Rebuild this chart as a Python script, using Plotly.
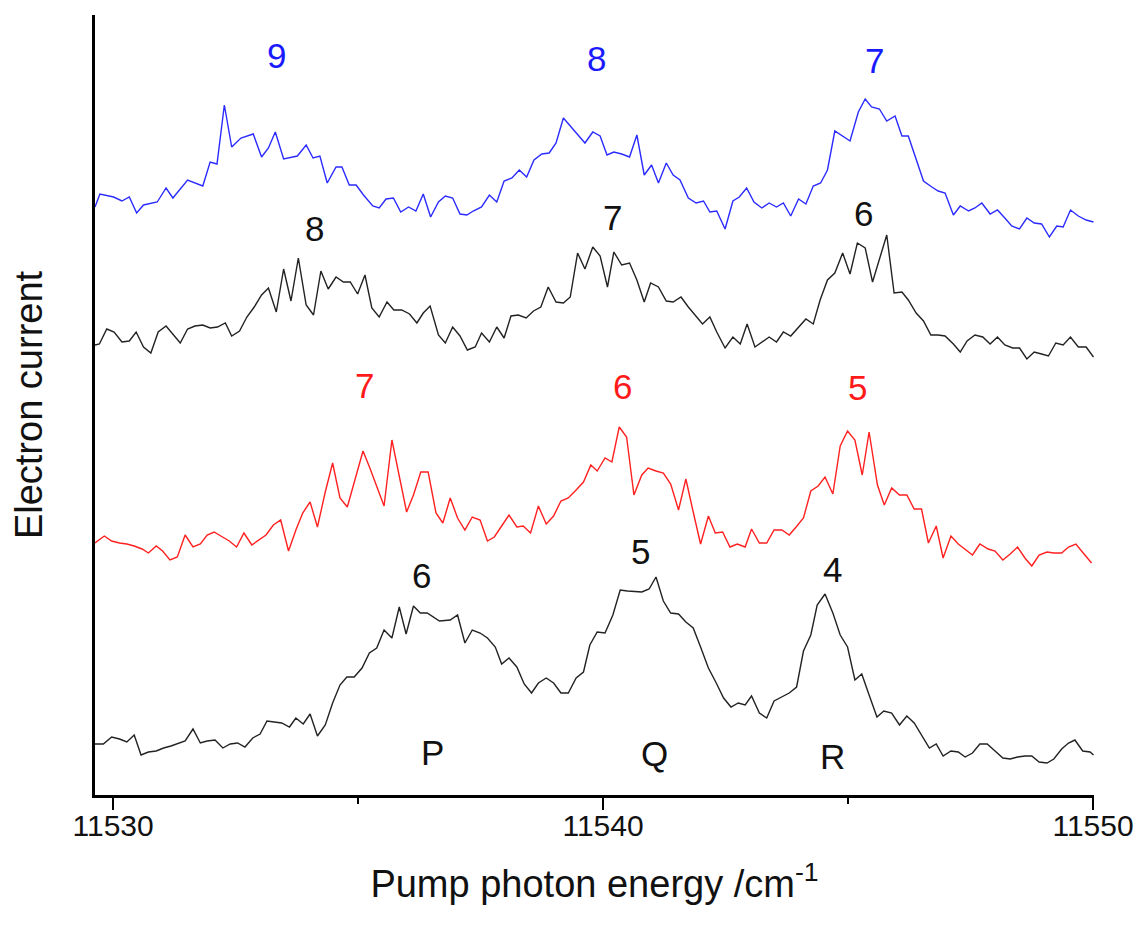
import plotly.graph_objects as go

# ---- data (pump photon energy in cm^-1, electron current in arbitrary units) ----
blue_energy = [11529.63, 11529.73, 11530.01, 11530.18, 11530.33, 11530.48, 11530.62, 11530.90, 11531.08, 11531.22,
               11531.52, 11531.83, 11531.98, 11532.12, 11532.27, 11532.42, 11532.61, 11532.86, 11533.03, 11533.17,
               11533.31, 11533.48, 11533.76, 11533.94, 11534.08, 11534.22, 11534.37, 11534.55, 11534.67, 11534.82,
               11534.96, 11535.11, 11535.30, 11535.43, 11535.57, 11535.72, 11535.87, 11536.03, 11536.18, 11536.33,
               11536.48, 11536.64, 11536.78, 11536.93, 11537.08, 11537.22, 11537.35, 11537.52, 11537.68, 11537.83,
               11537.98, 11538.14, 11538.29, 11538.44, 11538.59, 11538.75, 11538.90, 11539.04, 11539.19, 11539.36,
               11539.63, 11539.79, 11539.94, 11540.08, 11540.22, 11540.38, 11540.54, 11540.69, 11540.84, 11540.99,
               11541.13, 11541.29, 11541.43, 11541.57, 11541.74, 11541.90, 11542.05, 11542.18, 11542.32, 11542.49,
               11542.65, 11542.78, 11542.93, 11543.08, 11543.24, 11543.39, 11543.54, 11543.68, 11543.83, 11543.99,
               11544.14, 11544.29, 11544.44, 11544.58, 11544.73, 11545.04, 11545.21, 11545.35, 11545.48, 11545.64,
               11545.79, 11545.96, 11546.10, 11546.23, 11546.54, 11546.71, 11546.84, 11546.98, 11547.15, 11547.29,
               11547.46, 11547.59, 11547.73, 11547.90, 11548.05, 11548.20, 11548.34, 11548.50, 11548.65, 11548.80,
               11548.95, 11549.11, 11549.26, 11549.39, 11549.54, 11549.70, 11549.86, 11550.01]
blue_current = [588, 601, 598, 594, 598, 582, 590, 593, 607, 597,
                615, 609, 633, 631, 690, 648, 657, 661, 638, 647,
                663, 636, 639, 650, 637, 639, 612, 628, 628, 610,
                610, 600, 589, 587, 596, 597, 583, 588, 584, 601,
                578, 593, 599, 597, 581, 580, 584, 588, 600, 593,
                614, 617, 625, 618, 635, 641, 642, 652, 677, 667,
                652, 663, 659, 640, 643, 641, 638, 660, 620, 630,
                612, 632, 620, 615, 597, 592, 594, 583, 584, 566,
                594, 598, 607, 593, 587, 592, 588, 592, 579, 596,
                591, 609, 612, 625, 664, 654, 683, 696, 688, 686,
                674, 679, 659, 659, 614, 608, 604, 602, 580, 589,
                584, 587, 592, 581, 585, 577, 569, 566, 577, 572,
                571, 558, 569, 568, 585, 579, 575, 573]

black_upper_energy = [11529.63, 11529.72, 11529.87, 11530.02, 11530.18, 11530.33, 11530.47, 11530.62, 11530.77, 11530.92,
                      11531.08, 11531.23, 11531.37, 11531.52, 11531.67, 11531.83, 11531.98, 11532.13, 11532.29, 11532.42,
                      11532.58, 11532.73, 11532.88, 11533.03, 11533.17, 11533.33, 11533.48, 11533.63, 11533.78, 11533.94,
                      11534.09, 11534.24, 11534.39, 11534.55, 11534.70, 11534.84, 11534.99, 11535.14, 11535.28, 11535.43,
                      11535.59, 11535.73, 11535.89, 11536.05, 11536.20, 11536.33, 11536.47, 11536.64, 11536.78, 11536.93,
                      11537.08, 11537.23, 11537.39, 11537.52, 11537.68, 11537.83, 11537.98, 11538.12, 11538.27, 11538.43,
                      11538.58, 11538.73, 11538.88, 11539.04, 11539.19, 11539.33, 11539.48, 11539.63, 11539.79, 11539.94,
                      11540.09, 11540.22, 11540.38, 11540.54, 11540.69, 11540.84, 11540.97, 11541.13, 11541.29, 11541.43,
                      11541.59, 11541.74, 11541.90, 11542.03, 11542.18, 11542.32, 11542.49, 11542.65, 11542.80, 11542.94,
                      11543.10, 11543.26, 11543.39, 11543.54, 11543.68, 11543.83, 11543.99, 11544.14, 11544.29, 11544.43,
                      11544.58, 11544.73, 11544.89, 11545.04, 11545.19, 11545.35, 11545.50, 11545.79, 11545.94, 11546.10,
                      11546.23, 11546.39, 11546.54, 11546.69, 11546.84, 11546.98, 11547.15, 11547.29, 11547.43, 11547.59,
                      11547.75, 11547.90, 11548.05, 11548.20, 11548.36, 11548.50, 11548.65, 11548.80, 11548.95, 11549.09,
                      11549.24, 11549.39, 11549.54, 11549.70, 11549.86, 11550.01]
black_upper_current = [450, 451, 466, 463, 453, 454, 463, 448, 442, 463,
                       469, 460, 452, 466, 469, 470, 467, 468, 472, 459,
                       464, 478, 488, 500, 507, 483, 526, 494, 537, 490,
                       480, 524, 506, 518, 513, 513, 501, 520, 487, 478,
                       493, 485, 485, 481, 472, 482, 489, 460, 452, 468,
                       459, 445, 448, 462, 453, 468, 457, 479, 480, 477,
                       484, 488, 508, 493, 492, 498, 542, 526, 548, 539,
                       508, 543, 530, 532, 515, 493, 512, 508, 494, 493,
                       498, 488, 478, 471, 478, 463, 447, 458, 451, 471,
                       448, 454, 458, 453, 463, 459, 468, 476, 471, 495,
                       515, 522, 542, 521, 552, 547, 513, 560, 502, 503,
                       495, 482, 474, 460, 460, 459, 451, 443, 454, 460,
                       458, 451, 458, 450, 447, 447, 436, 443, 441, 439,
                       452, 450, 458, 448, 448, 438]

red_energy = [11529.63, 11529.82, 11529.97, 11530.13, 11530.28, 11530.43, 11530.59, 11530.72, 11530.88, 11531.01,
              11531.16, 11531.31, 11531.47, 11531.63, 11531.78, 11531.92, 11532.06, 11532.22, 11532.37, 11532.52,
              11532.67, 11532.83, 11532.97, 11533.12, 11533.27, 11533.42, 11533.58, 11533.73, 11533.87, 11534.02,
              11534.17, 11534.33, 11534.48, 11534.63, 11534.78, 11534.94, 11535.10, 11535.24, 11535.53, 11535.69,
              11535.84, 11535.99, 11536.13, 11536.28, 11536.43, 11536.59, 11536.73, 11536.88, 11537.03, 11537.18,
              11537.33, 11537.49, 11537.64, 11537.78, 11537.93, 11538.08, 11538.24, 11538.37, 11538.52, 11538.68,
              11538.84, 11538.99, 11539.14, 11539.29, 11539.45, 11539.60, 11539.75, 11539.88, 11540.04, 11540.18,
              11540.33, 11540.48, 11540.63, 11540.79, 11540.92, 11541.08, 11541.23, 11541.38, 11541.54, 11541.69,
              11541.84, 11541.99, 11542.15, 11542.29, 11542.44, 11542.59, 11542.74, 11542.90, 11543.03, 11543.19,
              11543.34, 11543.49, 11543.65, 11543.80, 11543.94, 11544.09, 11544.24, 11544.39, 11544.53, 11544.69,
              11544.84, 11544.99, 11545.14, 11545.29, 11545.43, 11545.60, 11545.74, 11545.89, 11546.05, 11546.20,
              11546.35, 11546.50, 11546.64, 11546.80, 11546.94, 11547.10, 11547.25, 11547.54, 11547.69, 11547.86,
              11548.00, 11548.16, 11548.31, 11548.46, 11548.61, 11548.75, 11548.90, 11549.06, 11549.20, 11549.36,
              11549.50, 11549.65, 11549.80, 11549.97]
red_current = [252, 259, 254, 252, 251, 249, 246, 242, 249, 244,
               235, 238, 260, 248, 251, 260, 263, 258, 254, 248,
               262, 250, 255, 260, 270, 275, 244, 265, 282, 293,
               268, 303, 332, 297, 288, 317, 344, 327, 289, 355,
               320, 283, 300, 323, 323, 282, 272, 297, 277, 265,
               278, 275, 254, 258, 269, 280, 268, 269, 262, 289,
               271, 279, 294, 297, 305, 313, 330, 324, 337, 333,
               368, 358, 300, 320, 327, 324, 322, 311, 285, 316,
               283, 251, 279, 262, 263, 248, 251, 248, 266, 252,
               252, 265, 265, 260, 268, 277, 304, 309, 318, 301,
               349, 364, 355, 320, 363, 310, 290, 307, 300, 300,
               286, 286, 252, 269, 237, 259, 251, 240, 251, 246,
               244, 235, 241, 248, 237, 229, 240, 243, 242, 242,
               248, 251, 242, 232]

black_lower_energy = [11529.63, 11529.80, 11529.97, 11530.13, 11530.28, 11530.43, 11530.57, 11530.72, 11530.88, 11531.03,
                      11531.18, 11531.33, 11531.47, 11531.63, 11531.78, 11531.92, 11532.08, 11532.24, 11532.39, 11532.54,
                      11532.69, 11532.85, 11533.00, 11533.14, 11533.29, 11533.44, 11533.60, 11533.73, 11533.88, 11534.02,
                      11534.17, 11534.33, 11534.48, 11534.63, 11534.77, 11534.92, 11535.08, 11535.23, 11535.38, 11535.53,
                      11535.69, 11535.84, 11535.98, 11536.13, 11536.27, 11536.41, 11536.66, 11536.88, 11537.03, 11537.18,
                      11537.33, 11537.49, 11537.64, 11537.80, 11537.93, 11538.08, 11538.24, 11538.39, 11538.54, 11538.68,
                      11538.84, 11538.99, 11539.14, 11539.29, 11539.45, 11539.60, 11539.73, 11539.88, 11540.04, 11540.20,
                      11540.35, 11540.50, 11540.79, 11540.94, 11541.08, 11541.23, 11541.38, 11541.54, 11541.69, 11541.84,
                      11541.99, 11542.15, 11542.31, 11542.46, 11542.61, 11542.76, 11542.90, 11543.03, 11543.19, 11543.34,
                      11543.49, 11543.65, 11543.80, 11543.95, 11544.09, 11544.24, 11544.37, 11544.53, 11544.69, 11544.84,
                      11544.99, 11545.14, 11545.28, 11545.43, 11545.59, 11545.73, 11545.89, 11546.05, 11546.20, 11546.35,
                      11546.50, 11546.66, 11546.80, 11546.94, 11547.10, 11547.25, 11547.39, 11547.54, 11547.69, 11547.84,
                      11548.00, 11548.16, 11548.31, 11548.46, 11548.61, 11548.75, 11548.90, 11549.06, 11549.20, 11549.36,
                      11549.50, 11549.63, 11549.79, 11549.94, 11550.01]
black_lower_current = [51, 51, 58, 56, 53, 60, 40, 43, 44, 47,
                       49, 52, 54, 66, 52, 54, 55, 47, 51, 52,
                       48, 57, 61, 74, 73, 72, 68, 77, 71, 81,
                       59, 70, 92, 110, 118, 118, 127, 142, 147, 165,
                       157, 188, 161, 189, 182, 182, 174, 175, 180, 152,
                       165, 162, 157, 148, 131, 137, 128, 111, 102, 112,
                       117, 112, 102, 102, 117, 123, 150, 163, 162, 180,
                       205, 204, 203, 206, 218, 194, 182, 181, 173, 167,
                       148, 127, 112, 97, 88, 92, 90, 99, 82, 77,
                       94, 98, 102, 108, 144, 160, 190, 201, 182, 160,
                       148, 115, 121, 100, 78, 84, 82, 70, 79, 72,
                       60, 47, 51, 39, 44, 43, 38, 42, 51, 51,
                       44, 37, 36, 38, 39, 39, 33, 32, 36, 46,
                       52, 55, 44, 43, 40]

# peak labels
blue_labels = ["9", "8", "7"]
blue_label_energy = [11533.33, 11539.86, 11545.53]
blue_label_current = [740, 737, 735]

black_upper_labels = ["8", "7", "6"]
black_upper_label_energy = [11534.12, 11540.20, 11545.31]
black_upper_label_current = [567, 578, 582]

red_labels = ["7", "6", "5"]
red_label_energy = [11535.14, 11540.39, 11545.20]
red_label_current = [410, 409, 408]

black_lower_labels = ["6", "5", "4"]
black_lower_label_energy = [11536.29, 11540.76, 11544.69]
black_lower_label_current = [220, 244, 226]

branch_labels = ["P", "Q", "R"]
branch_label_energy = [11536.51, 11541.04, 11544.69]
branch_label_current = [43, 42, 39]

x_tick_values = [11530, 11540, 11550]
x_tick_labels = ["11530", "11540", "11550"]

BLUE = "#2b2bff"
RED = "#ff2020"
BLACK = "#222222"
FONT = "Liberation Sans, Arial, sans-serif"

fig = go.Figure()
for xs, ys, col in [(blue_energy, blue_current, BLUE),
                    (black_upper_energy, black_upper_current, BLACK),
                    (red_energy, red_current, RED),
                    (black_lower_energy, black_lower_current, BLACK)]:
    fig.add_trace(go.Scatter(x=xs, y=ys, mode="lines",
                             line=dict(color=col, width=1.4), showlegend=False,
                             hoverinfo="skip"))

annotations = []
for texts, xs, ys, col in [(blue_labels, blue_label_energy, blue_label_current, "#1a1aff"),
                           (black_upper_labels, black_upper_label_energy, black_upper_label_current, "#111111"),
                           (red_labels, red_label_energy, red_label_current, "#ff1a1a"),
                           (black_lower_labels, black_lower_label_energy, black_lower_label_current, "#111111"),
                           (branch_labels, branch_label_energy, branch_label_current, "#111111")]:
    for t, x, y in zip(texts, xs, ys):
        annotations.append(dict(x=x, y=y, xref="x", yref="y", text=t, showarrow=False,
                                font=dict(family=FONT, size=35, color=col),
                                xanchor="center", yanchor="middle"))

fig.update_layout(
    width=1143, height=939,
    margin=dict(l=95, r=49, t=15, b=144, autoexpand=False),
    paper_bgcolor="white", plot_bgcolor="white",
    annotations=annotations,
    font=dict(family=FONT, color="#111111"),
    xaxis=dict(
        range=[11529.63, 11550.02],
        automargin=False,
        tickmode="array", tickvals=x_tick_values, ticktext=x_tick_labels,
        ticks="outside", ticklen=12, tickwidth=2, tickcolor="black",
        ticklabelstandoff=-10,
        minor=dict(tickvals=[11535, 11545], ticks="outside", ticklen=6, tickwidth=2, tickcolor="black"),
        showline=True, linecolor="black", linewidth=3,
        showgrid=False, zeroline=False,
        tickfont=dict(family=FONT, size=30, color="#111111"),
        title=dict(text="Pump photon energy /cm<sup>-1</sup>",
                   font=dict(family=FONT, size=38, color="#111111"), standoff=30),
    ),
    yaxis=dict(
        range=[0, 780],
        automargin=False,
        showticklabels=False, ticks="",
        showline=True, linecolor="black", linewidth=3,
        showgrid=False, zeroline=False,
        title=dict(text="Electron current",
                   font=dict(family=FONT, size=38, color="#111111"), standoff=38),
    ),
)

fig.write_html("out.html")
